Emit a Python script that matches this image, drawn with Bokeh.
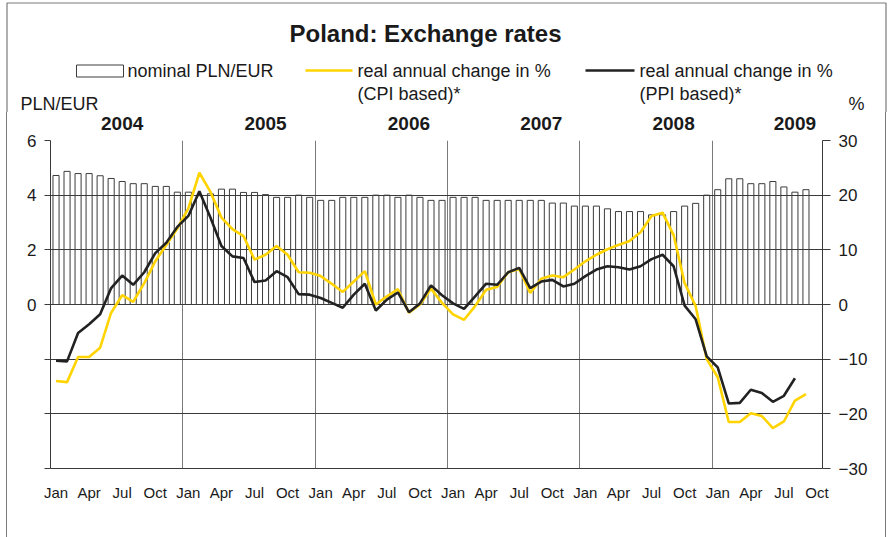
from bokeh.plotting import figure
from bokeh.models import Range1d, LinearAxis, FixedTicker
from bokeh.layouts import column
from bokeh.core.properties import value
from bokeh.embed import file_html
from bokeh.resources import INLINE

# ---------------- data ----------------
month_names = ["Jan", "Feb", "Mar", "Apr", "May", "Jun",
               "Jul", "Aug", "Sep", "Oct", "Nov", "Dec"]
years = ["2004", "2005", "2006", "2007", "2008", "2009"]
n_slots = 70  # Jan 2004 .. Oct 2009

# nominal PLN/EUR, Jan 2004 .. Sep 2009
nominal = [4.72, 4.87, 4.79, 4.79, 4.71, 4.61, 4.50, 4.42, 4.42, 4.32, 4.32, 4.11,
           4.11, 3.98, 4.05, 4.22, 4.22, 4.10, 4.10, 4.02, 3.92, 3.92, 4.00, 3.92,
           3.81, 3.81, 3.92, 3.92, 3.92, 4.00, 4.00, 3.92, 4.00, 3.92, 3.81, 3.81,
           3.92, 3.92, 3.92, 3.81, 3.81, 3.81, 3.81, 3.81, 3.81, 3.71, 3.71, 3.60,
           3.60, 3.60, 3.50, 3.40, 3.40, 3.40, 3.28, 3.28, 3.40, 3.60, 3.70, 4.00,
           4.20, 4.60, 4.60, 4.42, 4.42, 4.50, 4.30, 4.11, 4.20]

# real annual change in % (CPI based), Jan 2004 .. Sep 2009
cpi = [-14.0, -14.2, -9.6, -9.6, -7.9, -1.5, 1.7, 0.5, 3.9, 7.9, 10.9, 13.9,
       17.6, 24.1, 20.6, 15.9, 13.8, 12.5, 8.2, 9.1, 10.7, 9.1, 5.9, 5.8,
       5.2, 3.8, 2.3, 4.2, 6.1, 0.0, 1.5, 2.8, -1.5, 0.0, 2.9, 0.3,
       -1.8, -2.8, -0.3, 2.7, 3.2, 5.9, 6.5, 2.1, 4.7, 5.3, 5.0, 6.4,
       7.9, 9.1, 10.1, 10.9, 11.6, 13.2, 16.2, 16.8, 12.7, 3.9, -0.3, -10.0,
       -13.3, -21.5, -21.5, -19.9, -20.4, -22.6, -21.4, -17.6, -16.4]

# real annual change in % (PPI based), Jan 2004 .. Aug 2009
ppi = [-10.3, -10.4, -5.2, -3.6, -1.8, 3.0, 5.3, 3.6, 5.9, 9.4, 11.3, 14.2,
       16.2, 20.7, 15.9, 10.7, 8.8, 8.5, 4.1, 4.4, 6.1, 5.0, 1.9, 1.8,
       1.2, 0.3, -0.6, 1.8, 3.8, -1.1, 0.9, 2.2, -1.4, 0.2, 3.5, 1.7,
       0.2, -0.8, 1.5, 3.8, 3.6, 5.9, 6.7, 3.0, 4.2, 4.5, 3.3, 3.8,
       5.2, 6.4, 7.0, 6.8, 6.4, 7.0, 8.3, 9.1, 7.0, -0.2, -2.7, -9.5,
       -11.5, -18.1, -18.0, -15.6, -16.2, -17.8, -16.7, -13.5]

left_ticks = [-6, -4, -2, 0, 2, 4, 6]
right_ticks = [-30, -20, -10, 0, 10, 20, 30]
year_label_slots = [6, 19, 32, 44, 56, 67]   # month slot under each year label

# ---------------- layout ----------------
W, H = 889, 537
TOP_H = 112                              # header strip height
FL, FT, FW, FH = 50, 140, 772, 328       # plot frame in picture pixels

TXT = "#1a1a1a"
FONT = "Liberation Sans"
GRID = "#3a3a3a"
FRAME = "#7a7a7a"
YELLOW = "#FFD400"
DARK = "#222222"

# ---------- header strip (title, legend, unit captions) ----------
top = figure(width=W, height=TOP_H, x_range=Range1d(0, W), y_range=Range1d(TOP_H, 0),
             x_axis_type=None, y_axis_type=None,
             output_backend="svg", toolbar_location=None,
             min_border_left=0, min_border_right=0, min_border_top=0, min_border_bottom=0)
top.grid.visible = False
top.outline_line_color = None
top.background_fill_color = "white"
top.border_fill_color = "white"

top.text(x=[425], y=[33], text=["Poland: Exchange rates"], text_font=value(FONT),
         text_font_size="24px", text_font_style="bold", text_color=TXT,
         text_align="center", text_baseline="middle")
top.text(x=[127, 357, 357, 639, 639, 20, 848],
         y=[70, 70, 93, 70, 93, 103, 103],
         text=["nominal PLN/EUR", "real annual change in %", "(CPI based)*",
               "real annual change in %", "(PPI based)*", "PLN/EUR", "%"],
         text_font=value(FONT), text_font_size="18px", text_color=TXT,
         text_align="left", text_baseline="middle")
# legend samples
top.quad(left=[76], right=[123], top=[64.5], bottom=[76.5],
         fill_color="white", line_color="#3c3c3c", line_width=1)
top.line([305, 352], [70, 70], line_color=YELLOW, line_width=2.6)
top.line([585, 634], [70, 70], line_color=DARK, line_width=2.6)
# outer frame (top, left, right)
top.line([6.5, 6.5, 885.5, 885.5], [TOP_H, 2.5, 2.5, TOP_H],
         line_color=FRAME, line_width=1.2)

# ---------- main chart ----------
p = figure(frame_width=FW, frame_height=FH,
           x_range=Range1d(-0.5, n_slots - 0.5), y_range=Range1d(-6, 6),
           output_backend="svg", toolbar_location=None,
           min_border_left=FL, min_border_right=W - FL - FW,
           min_border_top=FT - TOP_H, min_border_bottom=H - FT - FH)
p.extra_y_ranges = {"pct": Range1d(-30, 30)}
p.outline_line_color = None
p.background_fill_color = "white"
p.border_fill_color = None
bg = (f"linear-gradient(to right, transparent 6px, {FRAME} 6px, {FRAME} 7px, transparent 7px), "
      f"linear-gradient(to right, transparent 885px, {FRAME} 885px, {FRAME} 886px, transparent 886px), "
      "white")
p.styles = {"background": bg}

# keep each figure's own frame geometry (no frame alignment in the column)
for fig in (top, p):
    try:
        fig.frame_align = False
    except Exception:
        pass

# grids
p.ygrid.ticker = FixedTicker(ticks=left_ticks)
p.ygrid.grid_line_color = GRID
p.ygrid.grid_line_width = 1
p.xgrid.ticker = FixedTicker(ticks=[11.5, 23.5, 35.5, 47.5, 59.5])
p.xgrid.grid_line_color = FRAME
p.xgrid.grid_line_width = 1

# left axis
ya = p.yaxis[0]
ya.ticker = FixedTicker(ticks=left_ticks)
ya.major_label_overrides = {-6: "", -4: "", -2: ""}
ya.major_tick_out = 6
ya.major_tick_in = 0
ya.minor_tick_line_color = None
ya.axis_line_color = GRID
ya.major_tick_line_color = GRID
ya.major_label_text_font = FONT
ya.major_label_text_font_size = "17px"
ya.major_label_text_color = TXT
ya.major_label_standoff = 8

# right axis
ra = LinearAxis(y_range_name="pct", ticker=FixedTicker(ticks=right_ticks))
ra.major_tick_out = 8
ra.major_tick_in = 0
ra.minor_tick_line_color = None
ra.axis_line_color = GRID
ra.major_tick_line_color = GRID
ra.major_label_text_font = FONT
ra.major_label_text_font_size = "17px"
ra.major_label_text_color = TXT
ra.major_label_standoff = 8
p.add_layout(ra, "right")

# bottom axis (months)
xa = p.xaxis[0]
tick_pos = list(range(0, n_slots, 3))
xa.ticker = FixedTicker(ticks=tick_pos)
xa.major_label_overrides = {i: month_names[i % 12] for i in tick_pos}
xa.major_tick_line_color = None
xa.minor_tick_line_color = None
xa.axis_line_color = GRID
xa.major_label_text_font = FONT
xa.major_label_text_font_size = "15px"
xa.major_label_text_color = TXT
xa.major_label_standoff = 9

# top axis (years)
ta = LinearAxis(ticker=FixedTicker(ticks=year_label_slots))
ta.major_label_overrides = {s: y for s, y in zip(year_label_slots, years)}
ta.axis_line_color = None
ta.major_tick_line_color = None
ta.minor_tick_line_color = None
ta.major_label_text_font = FONT
ta.major_label_text_font_size = "19px"
ta.major_label_text_font_style = "bold"
ta.major_label_text_color = TXT
ta.major_label_standoff = 5
p.add_layout(ta, "above")

# bars
xb = list(range(len(nominal)))
p.vbar(x=xb, top=nominal, bottom=0, width=0.55,
       fill_color=None, line_color="#3c3c3c", line_width=1)

# lines
p.line(list(range(len(cpi))), cpi, y_range_name="pct",
       line_color=YELLOW, line_width=2.6)
p.line(list(range(len(ppi))), ppi, y_range_name="pct",
       line_color=DARK, line_width=2.6)

layout = column(top, p, spacing=0)
open("out.html", "w").write(file_html(layout, INLINE))
